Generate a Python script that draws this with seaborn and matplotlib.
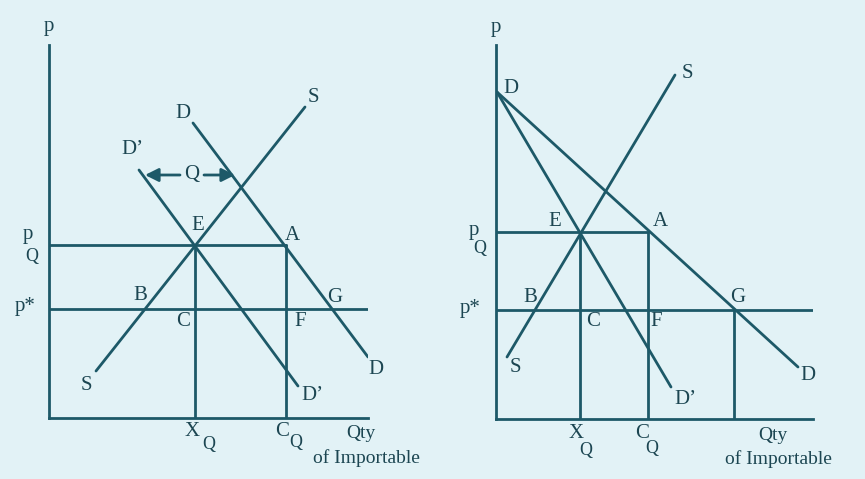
import pandas as pd
import seaborn as sns

import matplotlib
matplotlib.use('Agg')
import matplotlib.pyplot as plt

# --- values (units: px from each panel's origin) ---
# left panel: linear D, S and the quota-shifted D'
L_xmax, L_ymax = 319, 373
L_pQ, L_pstar = 173, 109
L_XQ, L_CQ = 146, 237
L_S = [(47, 47), (256, 311)]
L_D = [(144, 295), (319, 61)]
L_Dq = [(90, 248), (249, 32)]
L_arrow_y, L_arrow_from, L_arrow_to = 243, (96, 186), 143

# right panel: D and D' share the same intercept
R_xmax, R_ymax = 317, 374
R_pQ, R_pstar = 187, 109
R_XQ, R_CQ, R_G = 84, 152, 238
R_S = [(11, 62), (179, 344)]
R_D = [(1, 327), (302, 52)]
R_Dq = [(1, 327), (175, 32)]

# labels: (text, x, y, size)
L_labels = [("p", 0, 392, 15), ("D", 134, 305, 15), ("S", 264, 321, 15),
            ("D’", 83, 268, 15), ("E", 149, 193, 15), ("A", 243, 183, 15),
            ("p", -21, 183, 15), ("Q", -17, 162, 13), ("p*", -24, 111, 15),
            ("B", 91, 122, 15), ("G", 286, 121, 15), ("C", 134, 96, 15),
            ("F", 251, 96, 15), ("S", 37, 33, 15), ("D", 327, 48, 15),
            ("D’", 263, 23, 15), ("X", 143, -13, 15), ("Q", 160, -27, 13),
            ("C", 233, -13, 15), ("Q", 247, -25, 13), ("Qty", 312, -16, 14),
            ("of Importable", 317, -40, 14)]
R_labels = [("p", 0, 392, 15), ("D", 15, 331, 15), ("S", 191, 346, 15),
            ("E", 59, 197, 15), ("A", 164, 197, 15),
            ("p", -22, 189, 15), ("Q", -16, 171, 13), ("p*", -26, 110, 15),
            ("B", 34, 122, 15), ("G", 242, 121, 15), ("C", 97, 97, 15),
            ("F", 160, 97, 15), ("S", 19, 52, 15), ("D", 312, 44, 15),
            ("D’", 189, 19, 15), ("X", 80, -14, 15), ("Q", 90, -31, 13),
            ("C", 146, -14, 15), ("Q", 156, -30, 13), ("Qty", 277, -17, 14),
            ("of Importable", 282, -40, 14)]

INK = '#1d5968'
TXT = '#1c4652'
BG = '#e2f2f6'

sns.set_style('white')
plt.rcParams['font.family'] = ['Liberation Serif', 'DejaVu Serif']


def segs_to_df(segs):
    rows = []
    for i, seg in enumerate(segs):
        for x, y in seg:
            rows.append({'seg': i, 'x': x, 'y': y})
    return pd.DataFrame(rows)


def draw_panel(ax, xmax, ymax, lines, labels):
    df = segs_to_df(lines)
    sns.lineplot(data=df, x='x', y='y', units='seg', estimator=None,
                 sort=False, color=INK, lw=2.0, ax=ax, legend=False)
    ax.set_xlim(0, xmax)
    ax.set_ylim(0, ymax)
    ax.set_facecolor('none')
    for side in ['top', 'right']:
        ax.spines[side].set_visible(False)
    for side in ['left', 'bottom']:
        ax.spines[side].set_color(INK)
        ax.spines[side].set_linewidth(2.0)
    ax.set_xticks([])
    ax.set_yticks([])
    ax.set_xlabel('')
    ax.set_ylabel('')
    for t, x, y, s in labels:
        ax.text(x, y, t, fontsize=s, color=TXT, ha='center',
                va='center', clip_on=False)


W, H = 865, 479
fig = plt.figure(figsize=(W / 100, H / 100), dpi=100, facecolor=BG)

ax1 = fig.add_axes([49 / W, (H - 418) / H, L_xmax / W, L_ymax / H])
left_lines = [[(0, L_pQ), (L_CQ, L_pQ)],
              [(0, L_pstar), (L_xmax, L_pstar)],
              [(L_XQ, 0), (L_XQ, L_pQ)],
              [(L_CQ, 0), (L_CQ, L_pQ)],
              L_S, L_D, L_Dq]
draw_panel(ax1, L_xmax, L_ymax, left_lines, L_labels)

# quota arrows between D' and D
ax1.text(L_arrow_to, L_arrow_y, "Q", fontsize=15, color=TXT,
         ha='center', va='center')
for xend, xstart in [(L_arrow_from[0], L_arrow_to - 12),
                     (L_arrow_from[1], L_arrow_to + 12)]:
    ax1.annotate('', xy=(xend, L_arrow_y), xytext=(xstart, L_arrow_y),
                 arrowprops=dict(arrowstyle='-|>,head_length=0.8,head_width=0.4',
                                 color=INK, lw=2.0, shrinkA=0, shrinkB=0))

ax2 = fig.add_axes([496 / W, (H - 419) / H, R_xmax / W, R_ymax / H])
right_lines = [[(0, R_pQ), (R_CQ, R_pQ)],
               [(0, R_pstar), (R_xmax, R_pstar)],
               [(R_XQ, 0), (R_XQ, R_pQ)],
               [(R_CQ, 0), (R_CQ, R_pQ)],
               [(R_G, 0), (R_G, R_pstar)],
               R_S, R_D, R_Dq]
draw_panel(ax2, R_xmax, R_ymax, right_lines, R_labels)

plt.savefig('out.png', dpi=100, facecolor=BG)
plt.close()
